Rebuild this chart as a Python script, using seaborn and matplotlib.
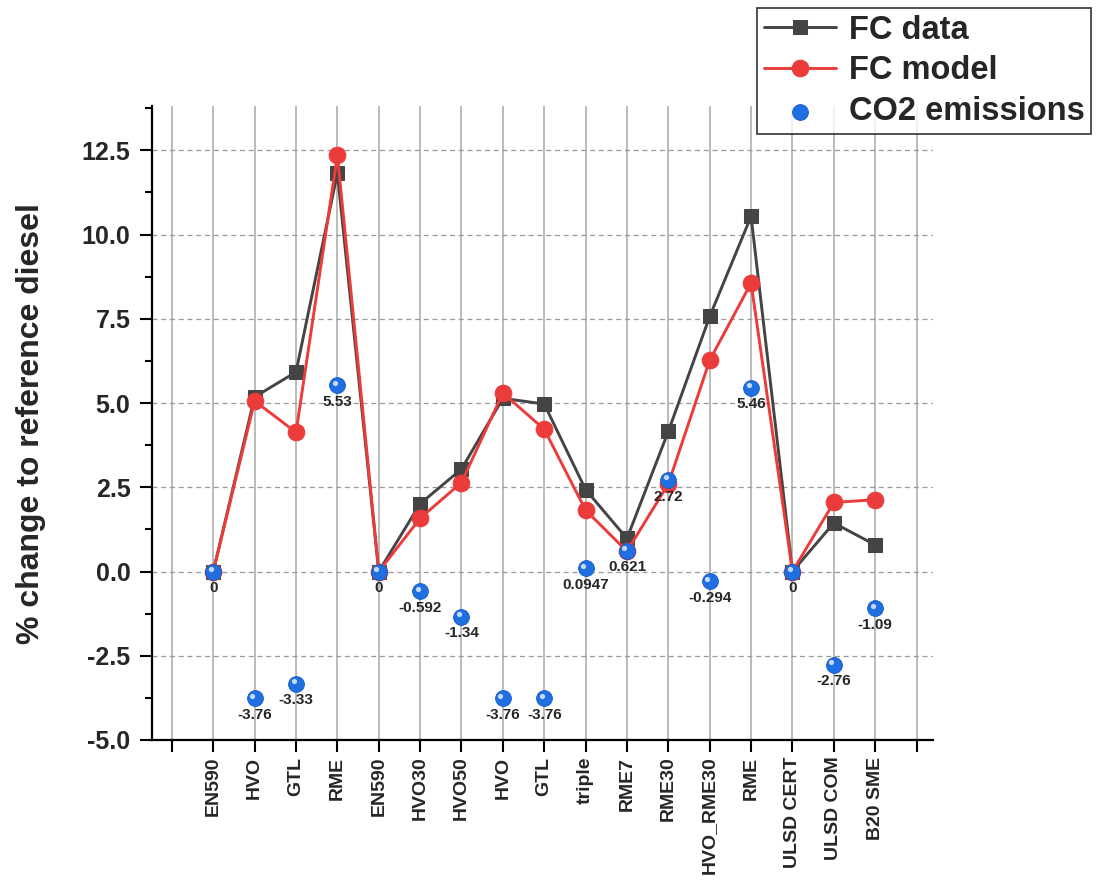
import numpy as np
import pandas as pd
import matplotlib
matplotlib.use('Agg')
import matplotlib.pyplot as plt
import matplotlib.transforms as mtransforms
from matplotlib.ticker import MultipleLocator, FixedLocator, FormatStrFormatter
import seaborn as sns

fuels = ['EN590', 'HVO', 'GTL', 'RME', 'EN590', 'HVO30', 'HVO50', 'HVO', 'GTL',
         'triple', 'RME7', 'RME30', 'HVO_RME30', 'RME', 'ULSD CERT', 'ULSD COM', 'B20 SME']
fc_data = [0, 5.18, 5.92, 11.82, 0, 2.01, 3.04, 5.14, 4.97, 2.43, 0.98, 4.16, 7.57, 10.54, 0, 1.44, 0.79]
fc_model = [0, 5.06, 4.13, 12.35, 0, 1.58, 2.64, 5.30, 4.22, 1.82, 0.60, 2.60, 6.27, 8.56, 0, 2.05, 2.13]
co2 = [0, -3.76, -3.33, 5.53, 0, -0.592, -1.34, -3.76, -3.76, 0.0947, 0.621, 2.72, -0.294, 5.46, 0, -2.76, -1.09]

pos = np.arange(1, len(fuels) + 1)
df = pd.DataFrame({'pos': pos, 'fuel': fuels, 'fc_data': fc_data, 'fc_model': fc_model, 'co2': co2})

sns.set_style('white')
plt.rcParams['font.family'] = ['Liberation Sans', 'DejaVu Sans']
plt.rcParams['font.weight'] = 'bold'

fig = plt.figure(figsize=(10.97, 8.86), dpi=100)
ax = fig.add_axes([0.1386, 0.1648, 0.712, 0.715])

grey = '#444444'
red = '#ec3b3b'
blue = '#1f6fe3'

sns.lineplot(data=df, x='pos', y='fc_data', ax=ax, color=grey, marker='s', markersize=10.5,
             markeredgecolor=grey, linewidth=2.1, label='FC data', zorder=3)
sns.lineplot(data=df, x='pos', y='fc_model', ax=ax, color=red, marker='o', markersize=12,
             markeredgecolor=red, linewidth=2.1, label='FC model', zorder=4)
sns.scatterplot(data=df, x='pos', y='co2', ax=ax, color=blue, s=130, edgecolor='#1a5cc0',
                linewidth=0.6, label='CO2 emissions', zorder=5)
# small highlight so the points look like little spheres
hl = mtransforms.offset_copy(ax.transData, fig=fig, x=-1.8, y=1.8, units='points')
ax.scatter(df['pos'], df['co2'], s=14, color='white', alpha=0.75, linewidths=0,
           transform=hl, zorder=6)

for x, y in zip(df['pos'], df['co2']):
    ax.annotate(f'{y:g}', (x, y), xytext=(0, -7), textcoords='offset points',
                ha='center', va='top', fontsize=11, fontweight='bold', zorder=7)

ax.set_xlim(-0.48, 18.4)
ax.set_ylim(-5, 13.8)
ax.xaxis.set_major_locator(FixedLocator(np.arange(0, len(fuels) + 2)))
ax.set_xticklabels([''] + fuels + [''], rotation=90, fontsize=14, fontweight='bold')
ax.yaxis.set_major_locator(MultipleLocator(2.5))
ax.yaxis.set_minor_locator(MultipleLocator(1.25))
ax.yaxis.set_major_formatter(FormatStrFormatter('%.1f'))
for lab in ax.get_yticklabels():
    lab.set_fontsize(18)
    lab.set_fontweight('bold')

ax.grid(False)
ax.xaxis.grid(True, color='#a8a8a8', linewidth=1.1, linestyle='-')
ax.yaxis.grid(True, color='#999999', linewidth=0.9, linestyle=(0, (4, 3)))
ax.set_axisbelow(True)

for side in ['top', 'right']:
    ax.spines[side].set_visible(False)
for side in ['left', 'bottom']:
    ax.spines[side].set_linewidth(1.6)
    ax.spines[side].set_color('black')
ax.tick_params(axis='both', which='major', direction='out', length=8.5, width=1.5,
               color='black', left=True, bottom=True)
ax.tick_params(axis='y', which='major', pad=7)
ax.tick_params(axis='y', which='minor', direction='out', length=5, width=1.5,
               color='black', left=True)

ax.set_xlabel('')
ax.set_ylabel('% change to reference diesel', fontsize=23, fontweight='bold', labelpad=26)

ax.get_legend().remove()
handles, labels = ax.get_legend_handles_labels()
leg = fig.legend(handles, labels, loc='upper right', bbox_to_anchor=(0.9945, 0.991),
                 prop={'size': 23.5, 'weight': 'bold'}, frameon=True, fancybox=False,
                 edgecolor='black', handlelength=2.2, labelspacing=0.3,
                 borderpad=0.2, handletextpad=0.4, borderaxespad=0)
leg.get_frame().set_linewidth(1.2)

fig.savefig('out.png', dpi=100)
